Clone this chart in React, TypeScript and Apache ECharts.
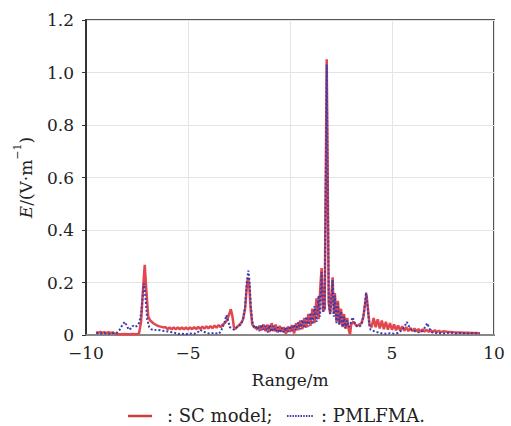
import React, { useEffect, useRef } from "react";
import * as echarts from "echarts";

// SC model: [range (m), E (V/m)]
const scModel: [number, number][] = [
  [-9.5, 0.012], [-9.4, 0.008], [-9.3, 0.012], [-9.2, 0.008], [-9.1, 0.011], [-9.0, 0.007],
  [-8.9, 0.011], [-8.8, 0.007], [-8.7, 0.010], [-8.6, 0.006], [-8.5, 0.004], [-8.3, 0.003],
  [-8.1, 0.004], [-7.9, 0.003], [-7.7, 0.004], [-7.5, 0.003], [-7.4, 0.006], [-7.3, 0.05],
  [-7.2, 0.18], [-7.12, 0.267], [-7.05, 0.18], [-6.95, 0.07], [-6.85, 0.055], [-6.7, 0.045],
  [-6.6, 0.04], [-6.5, 0.036], [-6.4, 0.033], [-6.3, 0.031], [-6.2, 0.029],
  [-6.1, 0.030], [-6.0, 0.022], [-5.9, 0.029], [-5.8, 0.021], [-5.7, 0.029], [-5.6, 0.021],
  [-5.5, 0.029], [-5.4, 0.021], [-5.3, 0.029], [-5.2, 0.021], [-5.1, 0.029], [-5.0, 0.021],
  [-4.9, 0.029], [-4.8, 0.022], [-4.7, 0.030], [-4.6, 0.022], [-4.5, 0.031], [-4.4, 0.023],
  [-4.3, 0.032], [-4.2, 0.024], [-4.1, 0.033], [-4.0, 0.025], [-3.9, 0.034], [-3.8, 0.026],
  [-3.7, 0.036], [-3.6, 0.028], [-3.5, 0.038], [-3.4, 0.030], [-3.3, 0.04], [-3.2, 0.045],
  [-3.1, 0.055], [-3.0, 0.075], [-2.9, 0.098], [-2.82, 0.07], [-2.75, 0.03], [-2.7, 0.022],
  [-2.6, 0.03], [-2.5, 0.038], [-2.4, 0.045], [-2.3, 0.06], [-2.2, 0.1], [-2.12, 0.18],
  [-2.06, 0.218], [-2.0, 0.19], [-1.93, 0.1], [-1.85, 0.04], [-1.75, 0.028],
  [-1.7, 0.03], [-1.6, 0.02], [-1.5, 0.035], [-1.4, 0.018], [-1.3, 0.04], [-1.2, 0.015],
  [-1.1, 0.04], [-1.0, 0.012], [-0.9, 0.045], [-0.8, 0.015], [-0.7, 0.04], [-0.6, 0.01],
  [-0.5, 0.035], [-0.4, 0.012], [-0.3, 0.03], [-0.2, 0.004], [-0.1, 0.032], [0.0, 0.012],
  [0.1, 0.038], [0.2, 0.006], [0.3, 0.045], [0.4, 0.018], [0.5, 0.055], [0.6, 0.022],
  [0.7, 0.065], [0.8, 0.028], [0.9, 0.08], [1.0, 0.035], [1.1, 0.1], [1.2, 0.045],
  [1.3, 0.14], [1.4, 0.06], [1.5, 0.2], [1.55, 0.255], [1.62, 0.09], [1.7, 0.1],
  [1.8, 1.05], [1.9, 0.12], [1.97, 0.08], [2.03, 0.15], [2.09, 0.22], [2.15, 0.08],
  [2.2, 0.16], [2.28, 0.05], [2.35, 0.13], [2.42, 0.04], [2.5, 0.1], [2.58, 0.03],
  [2.65, 0.08], [2.72, 0.025], [2.8, 0.065], [2.88, 0.02], [2.94, 0.002], [3.0, 0.04],
  [3.1, 0.05], [3.2, 0.04], [3.3, 0.035], [3.4, 0.04], [3.5, 0.045], [3.6, 0.07],
  [3.68, 0.12], [3.75, 0.155], [3.82, 0.1], [3.9, 0.04], [4.0, 0.03], [4.1, 0.065],
  [4.2, 0.03], [4.3, 0.06], [4.4, 0.025], [4.5, 0.055], [4.6, 0.022], [4.7, 0.05],
  [4.8, 0.02], [4.9, 0.045], [5.0, 0.02], [5.1, 0.04], [5.2, 0.018], [5.3, 0.036],
  [5.4, 0.017], [5.5, 0.033], [5.6, 0.016], [5.7, 0.03], [5.8, 0.015], [5.9, 0.027],
  [6.0, 0.015], [6.1, 0.025], [6.2, 0.014], [6.3, 0.023], [6.4, 0.013], [6.5, 0.021],
  [6.6, 0.013], [6.7, 0.02], [6.8, 0.012], [6.9, 0.019], [7.0, 0.011], [7.1, 0.018],
  [7.2, 0.011], [7.3, 0.016], [7.4, 0.011], [7.5, 0.014], [7.7, 0.012], [7.9, 0.011],
  [8.1, 0.01], [8.3, 0.01], [8.5, 0.009], [8.7, 0.009], [8.9, 0.008], [9.1, 0.008], [9.3, 0.007],
];

// PMLFMA: [range (m), E (V/m)]
const pmlfma: [number, number][] = [
  [-9.5, 0.008], [-9.3, 0.006], [-9.1, 0.007], [-8.9, 0.005], [-8.7, 0.007], [-8.5, 0.008],
  [-8.35, 0.02], [-8.2, 0.04], [-8.1, 0.05], [-8.0, 0.035], [-7.9, 0.02], [-7.8, 0.025],
  [-7.7, 0.035], [-7.6, 0.03], [-7.5, 0.035], [-7.4, 0.045], [-7.3, 0.08], [-7.22, 0.15],
  [-7.15, 0.197], [-7.08, 0.14], [-7.0, 0.06], [-6.9, 0.03], [-6.8, 0.022], [-6.7, 0.018],
  [-6.5, 0.02], [-6.3, 0.017], [-6.1, 0.015], [-5.9, 0.012], [-5.7, 0.01], [-5.5, 0.004],
  [-5.3, 0.005], [-5.1, 0.003], [-4.9, 0.006], [-4.7, 0.004], [-4.5, 0.012], [-4.4, 0.02],
  [-4.3, 0.015], [-4.1, 0.008], [-3.9, 0.005], [-3.7, 0.008], [-3.5, 0.004], [-3.4, 0.012],
  [-3.3, 0.03], [-3.2, 0.05], [-3.12, 0.076], [-3.05, 0.06], [-2.95, 0.03], [-2.85, 0.025],
  [-2.75, 0.02], [-2.6, 0.03], [-2.5, 0.035], [-2.4, 0.04], [-2.3, 0.06], [-2.2, 0.11],
  [-2.12, 0.2], [-2.04, 0.245], [-1.98, 0.2], [-1.92, 0.11], [-1.85, 0.05], [-1.75, 0.03],
  [-1.7, 0.025], [-1.6, 0.035], [-1.5, 0.015], [-1.4, 0.04], [-1.3, 0.02], [-1.2, 0.035],
  [-1.1, 0.01], [-1.0, 0.038], [-0.9, 0.012], [-0.8, 0.035], [-0.7, 0.012], [-0.6, 0.03],
  [-0.5, 0.008], [-0.4, 0.028], [-0.3, 0.01], [-0.2, 0.03], [-0.1, 0.012], [0.0, 0.035],
  [0.1, 0.015], [0.2, 0.04], [0.3, 0.018], [0.4, 0.048], [0.5, 0.022], [0.6, 0.058],
  [0.7, 0.026], [0.8, 0.07], [0.9, 0.032], [1.0, 0.085], [1.1, 0.04], [1.2, 0.11],
  [1.3, 0.05], [1.4, 0.15], [1.47, 0.07], [1.55, 0.24], [1.62, 0.09], [1.7, 0.1],
  [1.8, 1.03], [1.9, 0.12], [1.97, 0.08], [2.03, 0.14], [2.09, 0.21], [2.15, 0.07],
  [2.2, 0.15], [2.28, 0.045], [2.35, 0.12], [2.42, 0.04], [2.5, 0.09], [2.58, 0.03],
  [2.65, 0.07], [2.72, 0.025], [2.8, 0.055], [2.88, 0.03], [2.95, 0.04], [3.07, 0.068],
  [3.15, 0.05], [3.25, 0.035], [3.35, 0.03], [3.45, 0.035], [3.55, 0.05], [3.65, 0.1],
  [3.73, 0.163], [3.8, 0.11], [3.88, 0.04], [3.95, 0.02], [4.1, 0.015], [4.3, 0.01],
  [4.5, 0.006], [4.7, 0.005], [4.9, 0.007], [5.1, 0.005], [5.3, 0.008], [5.5, 0.02],
  [5.6, 0.03], [5.72, 0.05], [5.82, 0.035], [5.95, 0.02], [6.1, 0.015], [6.3, 0.01],
  [6.5, 0.015], [6.62, 0.03], [6.73, 0.045], [6.83, 0.025], [6.95, 0.01], [7.2, 0.008],
  [7.5, 0.006], [7.8, 0.009], [8.1, 0.006], [8.4, 0.008], [8.7, 0.006], [9.0, 0.008], [9.3, 0.006],
];

const xTicks = { min: -10, max: 10, interval: 5 };
const yTicks = { min: 0, max: 1.2, interval: 0.2 };
const seriesNames = [": SC model;", ": PMLFMA."];

const RED = "#e2474d";
const BLUE = "#3b3cae";
const FONT = "DejaVu Serif";
const TXT = "#222";

export default function App() {
  const ref = useRef<HTMLDivElement>(null);
  useEffect(() => {
    if (!ref.current) return;
    const chart = echarts.init(ref.current, null, { renderer: "svg" });
    const option: any = {
      animation: false,
      backgroundColor: "#ffffff",
      grid: {
        left: 86,
        right: 17,
        top: 20,
        bottom: 91,
        show: true,
        borderColor: "#555",
        borderWidth: 2,
      },
      xAxis: {
        type: "value",
        min: xTicks.min,
        max: xTicks.max,
        interval: xTicks.interval,
        name: "Range/m",
        nameLocation: "middle",
        nameGap: 36,
        nameTextStyle: { fontFamily: FONT, fontSize: 17, color: TXT },
        axisLine: { show: true, onZero: false, lineStyle: { color: "#888", width: 2 } },
        axisTick: { show: false },
        splitLine: { show: true, lineStyle: { color: "#e4e4e4", width: 1 } },
        axisLabel: {
          fontFamily: FONT,
          fontSize: 17,
          color: TXT,
          margin: 9,
          formatter: (v: number) => (v < 0 ? "\u2212" + Math.abs(v) : String(v)),
        },
      },
      yAxis: {
        type: "value",
        min: yTicks.min,
        max: yTicks.max,
        interval: yTicks.interval,
        name: "{i|E}{n|/(V·m}{s|\u22121}{n|)}",
        nameLocation: "middle",
        nameGap: 52,
        nameTextStyle: {
          fontFamily: FONT,
          fontSize: 17,
          color: TXT,
          rich: {
            i: { fontFamily: FONT, fontSize: 17, fontStyle: "italic", color: TXT, lineHeight: 22, verticalAlign: "bottom" },
            n: { fontFamily: FONT, fontSize: 17, color: TXT, lineHeight: 22, verticalAlign: "bottom" },
            s: { fontFamily: FONT, fontSize: 11, color: TXT, lineHeight: 22, verticalAlign: "top" },
          },
        },
        axisLine: { show: true, onZero: false, lineStyle: { color: "#333", width: 2 } },
        axisTick: { show: true, inside: false, length: 4, lineStyle: { color: "#333", width: 1 } },
        splitLine: { show: true, lineStyle: { color: "#e4e4e4", width: 1 } },
        axisLabel: {
          fontFamily: FONT,
          fontSize: 17,
          color: TXT,
          margin: 12,
          formatter: (v: number) => (v === 0 ? "0" : v.toFixed(1)),
        },
      },
      series: [
        {
          name: seriesNames[0],
          type: "line",
          data: scModel,
          showSymbol: false,
          symbol: "none",
          lineStyle: { color: RED, width: 2.5 },
          z: 2,
        },
        {
          name: seriesNames[1],
          type: "line",
          data: pmlfma,
          showSymbol: false,
          symbol: "none",
          lineStyle: { color: BLUE, width: 2, type: [2, 2] },
          z: 3,
        },
      ],
      graphic: [
        { type: "line", shape: { x1: 128, y1: 416, x2: 152, y2: 416 }, style: { stroke: "#d63a3f", lineWidth: 2.5 } },
        { type: "text", x: 167, y: 415, style: { text: seriesNames[0], fontFamily: FONT, fontSize: 18, fill: TXT, verticalAlign: "middle" } },
        { type: "line", shape: { x1: 287, y1: 416, x2: 313, y2: 416 }, style: { stroke: BLUE, lineWidth: 2, lineDash: [1.5, 1.2] } },
        { type: "text", x: 321, y: 415, style: { text: seriesNames[1], fontFamily: FONT, fontSize: 18, fill: TXT, verticalAlign: "middle" } },
      ],
    };
    chart.setOption(option);
    return () => chart.dispose();
  }, []);
  return <div ref={ref} style={{ position: "fixed", left: 0, top: 0, width: 511, height: 426 }} />;
}
